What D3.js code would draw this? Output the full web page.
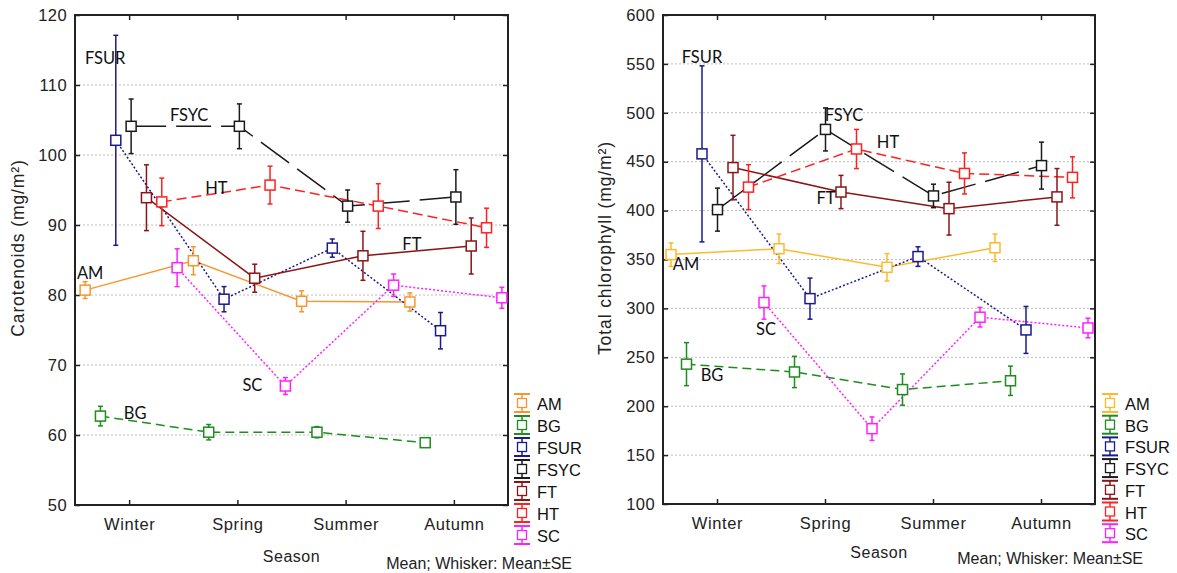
<!DOCTYPE html>
<html><head><meta charset="utf-8">
<script src="https://cdn.jsdelivr.net/npm/d3@7"></script>
<style>body{margin:0;background:#fff;} svg{display:block;}</style>
</head><body>
<svg id="chart" width="1177" height="573"></svg>
<script>
// ---------- DATA ----------
const seasons = ["Winter", "Spring", "Summer", "Autumn"];
const seriesNames = ["AM", "BG", "FSUR", "FSYC", "FT", "HT", "SC"];

const carTicks = [50, 60, 70, 80, 90, 100, 110, 120];
const chlTicks = [100, 150, 200, 250, 300, 350, 400, 450, 500, 550, 600];

// Carotenoids (mg/m²): means and SE per season
const carAM = [80.7, 84.9, 79.1, 79.0];      const carAM_SE = [1.2, 2.0, 1.5, 1.3];
const carBG = [62.7, 60.4, 60.4, 58.9];      const carBG_SE = [1.4, 1.1, 0.8, 0.5];
const carFSUR = [102.1, 79.4, 86.7, 74.9];   const carFSUR_SE = [15.0, 1.8, 1.3, 2.6];
const carFSYC = [104.1, 104.1, 92.7, 94.0];  const carFSYC_SE = [3.9, 3.2, 2.3, 3.9];
const carFT = [93.9, 82.4, 85.6, 87.0];      const carFT_SE = [4.7, 2.0, 3.5, 4.0];
const carHT = [93.3, 95.7, 92.7, 89.6];      const carHT_SE = [3.4, 2.7, 3.2, 2.8];
const carSC = [83.9, 67.0, 81.4, 79.6];      const carSC_SE = [2.7, 1.2, 1.6, 1.5];

// Total chlorophyll (mg/m²): means and SE per season
const chlAM = [355, 361, 342, 362];          const chlAM_SE = [12, 15, 14, 14];
const chlBG = [243, 235, 217, 226];          const chlBG_SE = [22, 16, 16, 15];
const chlFSUR = [458, 310, 353, 278];        const chlFSUR_SE = [90, 21, 10, 24];
const chlFSYC = [401, 483, 415, 446];        const chlFSYC_SE = [22, 22, 12, 24];
const chlFT = [444, 419, 402, 414];          const chlFT_SE = [33, 17, 27, 29];
const chlHT = [424, 463, 438, 434];          const chlHT_SE = [23, 20, 21, 21];
const chlSC = [306, 177, 291, 280];          const chlSC_SE = [17, 12, 10, 10];

// In-plot series labels: [text, season, value]
const carLabels = [["FSUR", "Winter", 113.9], ["FSYC", "Winter", 105.7], ["HT", "Spring", 95.3],
                   ["FT", "Autumn", 87.3], ["AM", "Winter", 83.1], ["BG", "Winter", 63.1], ["SC", "Spring", 67.1]];
const chlLabels = [["FSUR", "Winter", 557], ["FSYC", "Spring", 497.8], ["HT", "Summer", 470],
                   ["FT", "Spring", 412.9], ["AM", "Winter", 345.4], ["SC", "Winter", 279], ["BG", "Winter", 232]];

// ---------- STYLE ----------
const styleDash = {AM: null, BG: "9,5", FSUR: "2,2", FSYC: "35,10", FT: null, HT: "10,5", SC: "2,2"};
const colorsLeft = {AM: "#F7962E", BG: "#1E8C1E", FSUR: "#1A1A8C", FSYC: "#1a1a1a", FT: "#8B1414", HT: "#FF2020", SC: "#FF20FF"};
const colorsRight = Object.assign({}, colorsLeft, {AM: "#FDBA2C"});

const carTable = seriesNames.map(n => ({name: n, mean: eval("car" + n), se: eval("car" + n + "_SE")}));
const chlTable = seriesNames.map(n => ({name: n, mean: eval("chl" + n), se: eval("chl" + n + "_SE")}));

const svg = d3.select("#chart");
const tickFont = "'Liberation Sans', Arial, sans-serif";
const labelFont = "Lato, 'Open Sans', sans-serif";

function drawChart(cfg) {
  const g = svg.append("g");
  const x = d3.scalePoint().domain(seasons).range([cfg.left, cfg.right]).padding(0.5);
  const y = d3.scaleLinear().domain(d3.extent(cfg.ticks)).range([cfg.bottom, cfg.top]);
  const off = d3.scalePoint().domain(seriesNames).range(cfg.offRange);
  const px = (name, i) => x(seasons[i]) + off(name);

  // grid
  g.append("g").selectAll("line").data(cfg.ticks.slice(1, -1)).join("line")
    .attr("x1", cfg.left).attr("x2", cfg.right)
    .attr("y1", d => y(d)).attr("y2", d => y(d))
    .attr("stroke", "#bdbdbd").attr("stroke-width", 1).attr("stroke-dasharray", "2,2");

  // axes with inward ticks
  const ax = (sel, fn) => sel.call(fn).call(s => s.select(".domain").remove())
    .call(s => s.selectAll(".tick line").attr("stroke", "#222").attr("stroke-width", 1.5));
  const left = g.append("g").attr("transform", `translate(${cfg.left},0)`);
  ax(left, d3.axisLeft(y).tickValues(cfg.ticks).tickSize(-5).tickPadding(8));
  left.selectAll(".tick text").attr("font-size", 16.5).attr("font-family", tickFont).attr("fill", "#222").attr("letter-spacing", 0.4);
  const bottom = g.append("g").attr("transform", `translate(0,${cfg.bottom})`);
  ax(bottom, d3.axisBottom(x).tickSize(-5).tickPadding(13));
  bottom.selectAll(".tick text").attr("font-size", 16.5).attr("font-family", tickFont).attr("fill", "#222").attr("letter-spacing", 0.6);
  const top = g.append("g").attr("transform", `translate(0,${cfg.top})`);
  ax(top, d3.axisTop(x).tickSize(-5).tickFormat(""));
  const right = g.append("g").attr("transform", `translate(${cfg.right},0)`);
  ax(right, d3.axisRight(y).tickValues(cfg.ticks).tickSize(-5).tickFormat(""));

  // frame
  g.append("rect").attr("x", cfg.left).attr("y", cfg.top)
    .attr("width", cfg.right - cfg.left).attr("height", cfg.bottom - cfg.top)
    .attr("fill", "none").attr("stroke", "#222").attr("stroke-width", 2);

  // lines
  const line = d3.line().x(d => d[0]).y(d => d[1]);
  cfg.table.forEach(s => {
    const pts = s.mean.map((v, i) => [px(s.name, i), y(v)]);
    g.append("path").attr("d", line(pts)).attr("fill", "none")
      .attr("stroke", cfg.colors[s.name]).attr("stroke-width", 1.5)
      .attr("stroke-dasharray", styleDash[s.name]);
  });

  // whiskers + boxes
  cfg.table.forEach(s => {
    const c = cfg.colors[s.name];
    const sg = g.append("g").attr("stroke", c).attr("stroke-width", 1.5);
    s.mean.forEach((v, i) => {
      const cx = px(s.name, i);
      const yt = y(v + s.se[i]), yb = y(v - s.se[i]);
      sg.append("line").attr("x1", cx).attr("x2", cx).attr("y1", yt).attr("y2", yb);
      sg.append("line").attr("x1", cx - 2.5).attr("x2", cx + 2.5).attr("y1", yt).attr("y2", yt);
      sg.append("line").attr("x1", cx - 2.5).attr("x2", cx + 2.5).attr("y1", yb).attr("y2", yb);
      sg.append("rect").attr("x", cx - 5).attr("y", y(v) - 5).attr("width", 10).attr("height", 10)
        .attr("fill", "#fff");
    });
  });

  // in-plot labels
  g.append("g").selectAll("text").data(cfg.labels).join("text")
    .attr("x", (d, i) => x(d[1]) + cfg.labelDx[i])
    .attr("y", d => y(d[2]))
    .attr("text-anchor", "middle").attr("dominant-baseline", "central")
    .attr("font-family", labelFont).attr("font-size", 16.5).attr("fill", "#111")
    .text(d => d[0]);

  // y title
  g.append("text").attr("transform", `translate(${cfg.yTitleX},248) rotate(-90)`)
    .attr("text-anchor", "middle").attr("dominant-baseline", "central")
    .attr("font-family", tickFont).attr("font-size", 17.5).attr("fill", "#222")
    .attr("letter-spacing", cfg.yTitleSpacing)
    .text(cfg.yTitle);
  // x title
  g.append("text").attr("x", (cfg.left + cfg.right) / 2).attr("y", cfg.xTitleY)
    .attr("text-anchor", "middle").attr("dominant-baseline", "central")
    .attr("font-family", tickFont).attr("font-size", 16).attr("fill", "#222").attr("letter-spacing", 0.5)
    .text("Season");
  g.append("text").attr("x", cfg.noteX).attr("y", cfg.noteY)
    .attr("text-anchor", "end").attr("dominant-baseline", "central")
    .attr("font-family", tickFont).attr("font-size", 16).attr("fill", "#222")
    .text("Mean; Whisker: Mean±SE");

  // legend
  const lg = g.append("g");
  seriesNames.forEach((n, i) => {
    const ly = cfg.legendY + i * cfg.legendStep;
    const c = cfg.colors[n];
    const it = lg.append("g").attr("transform", `translate(${cfg.legendX},${ly})`);
    it.append("line").attr("x1", 0).attr("x2", 0).attr("y1", -9).attr("y2", 9).attr("stroke", c).attr("stroke-width", 1.5);
    it.append("line").attr("x1", -8).attr("x2", 8).attr("y1", -9).attr("y2", -9).attr("stroke", c).attr("stroke-width", 2);
    it.append("line").attr("x1", -8).attr("x2", 8).attr("y1", 9).attr("y2", 9).attr("stroke", c).attr("stroke-width", 2);
    it.append("rect").attr("x", -4.5).attr("y", -4.5).attr("width", 9).attr("height", 9)
      .attr("fill", "#fff").attr("stroke", c).attr("stroke-width", 1.3);
    it.append("text").attr("x", 15).attr("y", 1).attr("dominant-baseline", "central")
      .attr("font-family", tickFont).attr("font-size", 16.5).attr("fill", "#111").text(n);
  });
}

drawChart({
  table: carTable, ticks: carTicks, colors: colorsLeft,
  left: 75, right: 508, top: 15, bottom: 505, offRange: [-44, 48],
  labels: carLabels, labelDx: [-24, 60, -21, -42, -39, 6, 15],
  yTitle: "Carotenoids (mg/m²)", yTitleX: 18, yTitleSpacing: 0.9, xTitleY: 556,
  noteX: 572, noteY: 563, legendX: 522, legendY: 403, legendStep: 22
});
drawChart({
  table: chlTable, ticks: chlTicks, colors: colorsRight,
  left: 663, right: 1095, top: 15, bottom: 504, offRange: [-46, 47],
  labels: chlLabels, labelDx: [-15, 19, -45, 1, -31, 49, -5],
  yTitle: "Total chlorophyll (mg/m²)", yTitleX: 605, yTitleSpacing: 0.9, xTitleY: 552,
  noteX: 1143, noteY: 558, legendX: 1110, legendY: 403, legendStep: 21.7
});
</script>
</body></html>
